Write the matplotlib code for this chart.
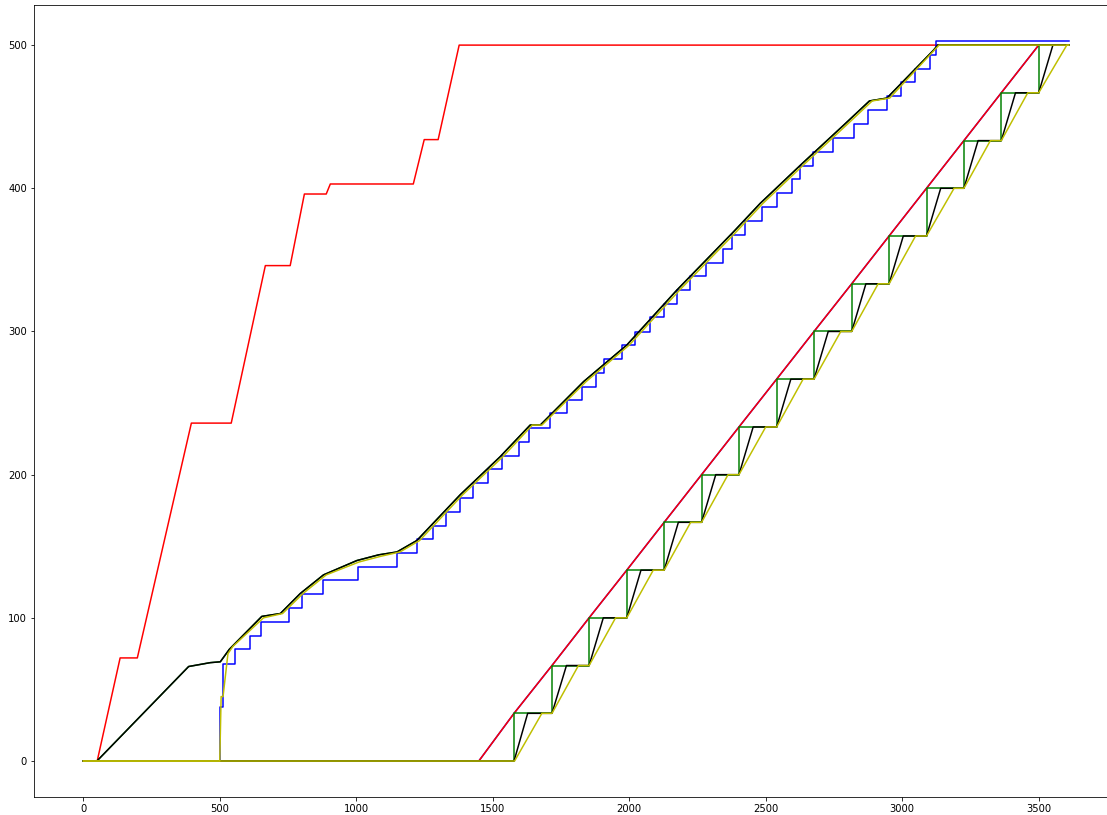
import matplotlib
matplotlib.use('Agg')
import matplotlib.pyplot as plt

# ---- group A (upper curves) ----
red_a_x = [0, 51, 135, 198, 396, 542, 667, 758, 810, 890, 905, 1209, 1249, 1300, 1377, 3610]
red_a_y = [0, 0, 72, 72, 236, 236, 346, 346, 396, 396, 403, 403, 434, 434, 500, 500]

black_a_x = [0, 50, 386, 465, 502, 535, 654, 722, 795, 880, 1002, 1082, 1149, 1222, 1381, 1527,
             1637, 1674, 1833, 1991, 2175, 2382, 2480, 2632, 2785, 2880, 2944, 3115, 3130, 3610]
black_a_y = [0, 0, 66, 68.7, 69.3, 78, 101, 103, 117, 130, 140, 144, 146, 154, 186, 212.5,
             234.6, 234.6, 265, 290.5, 329, 369.6, 389.5, 417, 444, 461, 463, 496.5, 500, 500]

yellow_a_x = [0, 500, 505, 512, 530, 548, 660, 730, 805, 890, 1010, 1090, 1160, 1232, 1390, 1537,
              1645, 1680, 1842, 2000, 2185, 2392, 2490, 2642, 2795, 2890, 2954, 3125, 3135, 3610]
yellow_a_y = [0, 0, 45, 45, 75, 80, 100, 103, 117, 130, 139, 143, 146, 154, 186, 212.5,
              234.6, 234.6, 265, 290.5, 329, 369.6, 389.5, 417, 444, 461, 463, 498, 500, 500]

# blue staircase: x where each level starts, and the level
blue_a_x = [0, 500, 513, 557, 609, 651, 752, 801, 880, 1005, 1149, 1222, 1281, 1330, 1379, 1427,
            1481, 1533, 1598, 1631, 1709, 1772, 1827, 1879, 1908, 1973, 2022, 2077, 2129, 2175,
            2223, 2282, 2345, 2376, 2425, 2486, 2541, 2596, 2626, 2675, 2746, 2822, 2873, 2944,
            2995, 3048, 3102, 3125, 3610]
blue_a_y = [0, 38, 68, 78, 87.5, 97.3, 106.6, 116.3, 126.4, 135.7, 145.5, 154.8, 164.3, 174, 183.9, 193.9,
            203.7, 213, 222.9, 232.7, 242.8, 252, 261.5, 271, 280.7, 290.5, 299.8, 309.9, 319, 329,
            338.7, 348, 357.9, 367.3, 377, 387, 396.6, 406.4, 415.6, 425.6, 435, 444.6, 454.6, 464.4,
            474.4, 483.6, 493, 502.6, 502.6]

# ---- group B (lower curves) ----
red_b_x = [0, 1449, 1578, 1717, 1853, 1991, 2128, 2265, 2402, 2540, 2677, 2815, 2952, 3089, 3226,
           3363, 3500, 3610]
red_b_y = [0, 0, 33.3, 66.7, 100, 133.3, 166.7, 200, 233.3, 266.7, 300, 333.3, 366.7, 400, 433.3,
           466.7, 500, 500]

green_b_x = [0, 1578, 1717, 1853, 1991, 2128, 2265, 2402, 2540, 2677, 2815, 2952, 3089, 3226,
             3363, 3500, 3610]
green_b_y = [0, 33.3, 66.7, 100, 133.3, 166.7, 200, 233.3, 266.7, 300, 333.3, 366.7, 400, 433.3,
             466.7, 500, 500]

black_b_x = [0, 1578, 1628, 1717, 1770, 1853, 1905, 1991, 2043, 2128, 2180, 2265, 2317, 2402, 2454,
             2540, 2592, 2677, 2729, 2815, 2867, 2952, 3004, 3089, 3141, 3226, 3278, 3363, 3415,
             3500, 3552, 3610]
black_b_y = [0, 0, 33.3, 33.3, 66.7, 66.7, 100, 100, 133.3, 133.3, 166.7, 166.7, 200, 200, 233.3,
             233.3, 266.7, 266.7, 300, 300, 333.3, 333.3, 366.7, 366.7, 400, 400, 433.3, 433.3, 466.7,
             466.7, 500, 500]

yellow_b_x = [0, 1580, 1680, 1717, 1814, 1853, 1950, 1991, 2088, 2128, 2225, 2265, 2362, 2402, 2500,
              2540, 2637, 2677, 2775, 2815, 2912, 2952, 3049, 3089, 3190, 3226, 3323, 3363, 3460,
              3500, 3603, 3610]
yellow_b_y = [0, 0, 33.3, 33.3, 66.7, 66.7, 100, 100, 133.3, 133.3, 166.7, 166.7, 200, 200, 233.3,
              233.3, 266.7, 266.7, 300, 300, 333.3, 333.3, 366.7, 366.7, 400, 400, 433.3, 433.3, 466.7,
              466.7, 500, 500]

fig = plt.figure(figsize=(1107 / 72, 815 / 72), dpi=72)
ax = fig.add_axes([34 / 1107, 18 / 815, 1084 / 1107, 791.6 / 815])

ax.plot(red_b_x, red_b_y, color='b')
ax.plot(red_b_x, red_b_y, color='r')
ax.plot(red_a_x, red_a_y, color='r')
ax.plot(black_a_x, black_a_y, color='g')
ax.step(green_b_x, green_b_y, where='post', color='g')
ax.step(blue_a_x, blue_a_y, where='post', color='b')
ax.plot(black_a_x, black_a_y, color='k')
ax.plot(black_b_x, black_b_y, color='k')
ax.plot(yellow_a_x, yellow_a_y, color='y')
ax.plot(yellow_b_x, yellow_b_y, color='y')

ax.set_xticks([0, 500, 1000, 1500, 2000, 2500, 3000, 3500])
ax.set_yticks([0, 100, 200, 300, 400, 500])

fig.savefig('out.png', dpi=72)
